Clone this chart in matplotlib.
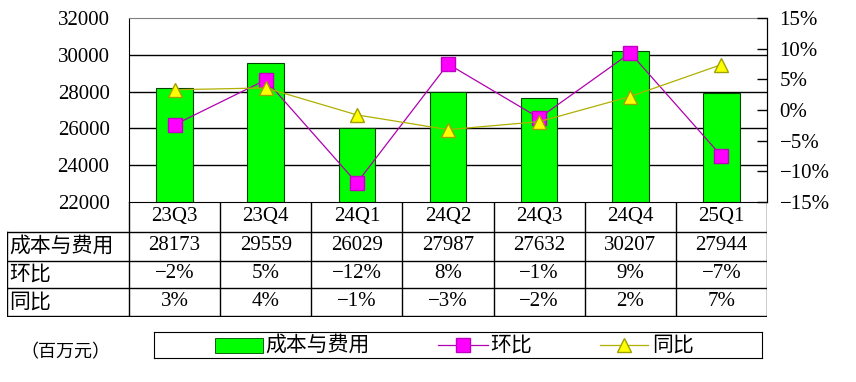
import numpy as np
import matplotlib
matplotlib.use("Agg")
import matplotlib.pyplot as plt
from matplotlib.lines import Line2D
from matplotlib.patches import Rectangle

plt.rcParams['font.family'] = ['Liberation Serif', 'Noto Sans CJK SC']
plt.rcParams['axes.unicode_minus'] = True

# DATA
quarters = ["23Q3", "23Q4", "24Q1", "24Q2", "24Q3", "24Q4", "25Q1"]
costs = [28173, 29559, 26029, 27987, 27632, 30207, 27944]
qoq = [-2.4, 4.9, -11.9, 7.5, -1.3, 9.3, -7.5]   # 环比 %
yoy = [3.3, 3.6, -0.8, -3.2, -1.9, 2.2, 7.4]     # 同比 %
qoq_text = ["−2%", "5%", "−12%", "8%", "−1%", "9%", "−7%"]
yoy_text = ["3%", "4%", "−1%", "−3%", "−2%", "2%", "7%"]
row_names = ["成本与费用", "环比", "同比"]
left_ticks = [22000, 24000, 26000, 28000, 30000, 32000]
right_ticks = [-15, -10, -5, 0, 5, 10, 15]

W, H = 856, 382
FS = 15
BAR_GREEN = "#00FF00"
MAGENTA = "#FF00FF"
QOQ_LINE = "#B000B0"
YELLOW = "#FFFF00"
YOY_LINE = "#B0B000"


def px_box(x0, y0, x1, y1):
    # pixel box (top-left origin) -> figure fraction rect
    return [x0 / W, 1 - y1 / H, (x1 - x0) / W, (y1 - y0) / H]


fig = plt.figure(figsize=(W / 100, H / 100), dpi=100)
fig.patch.set_facecolor("white")

# MAIN CHART
ax = fig.add_axes(px_box(129, 18, 767, 202))
x = np.arange(len(quarters))
ax.bar(x, costs, width=0.4, color=BAR_GREEN, edgecolor="#004400", linewidth=0.8, zorder=2)
ax.set_xlim(-0.5, len(quarters) - 0.5)
ax.set_ylim(22000, 32000)
ax.set_yticks(left_ticks)
ax.set_yticklabels([str(v) for v in left_ticks], fontsize=FS)
ax.tick_params(axis="y", length=0, pad=14)
ax.set_xticks([])
for v in left_ticks[1:-1]:
    ax.axhline(v, color="black", linewidth=1.0, zorder=1)
ax.spines["top"].set_color("#808080")
for s in ["left", "right", "bottom"]:
    ax.spines[s].set_color("black")

ax2 = ax.twinx()
ax2.set_ylim(-15, 15)
ax2.set_yticks(right_ticks)
ax2.set_yticklabels([f"{v}%".replace("-", "−") for v in right_ticks], fontsize=FS)
ax2.tick_params(axis="y", direction="in", length=7, pad=9, width=1)
for s in ["top", "left", "bottom"]:
    ax2.spines[s].set_visible(False)
ax2.spines["right"].set_color("black")
ax2.plot(x, qoq, color=QOQ_LINE, linewidth=0.9, marker="s", markersize=9.5,
         markerfacecolor=MAGENTA, markeredgecolor="#C000C0", zorder=3)
ax2.plot(x, yoy, color=YOY_LINE, linewidth=0.9, marker="^", markersize=10,
         markerfacecolor=YELLOW, markeredgecolor="#A0A000", zorder=4)

# DATA TABLE
cat_w = (767 - 129) / len(quarters)
x_left = -0.5 - (129 - 7) / cat_w
tab = fig.add_axes(px_box(7, 202, 767, 317))
tab.set_xlim(x_left, len(quarters) - 0.5)
tab.set_ylim(317, 202)
tab.axis("off")
lk = dict(color="black", linewidth=1.0)
for yy in [232, 261, 288, 316]:
    tab.add_line(Line2D([x_left, len(quarters) - 0.5], [yy, yy], **lk))
tab.add_line(Line2D([x_left, x_left], [232, 316], **lk))
for b in np.arange(len(quarters) + 1) - 0.5:
    tab.add_line(Line2D([b, b], [202, 316], **lk))

row_y = [246, 274, 302]
for i, q in enumerate(quarters):
    tab.text(i, 217, q, ha="center", va="center", fontsize=FS)
    tab.text(i, row_y[0], str(costs[i]), ha="center", va="center", fontsize=FS)
    tab.text(i, row_y[1], qoq_text[i], ha="center", va="center", fontsize=FS)
    tab.text(i, row_y[2], yoy_text[i], ha="center", va="center", fontsize=FS)
for name, yy in zip(row_names, row_y):
    tab.text(x_left + 0.02, yy, name, ha="left", va="center", fontsize=FS,
             family=["Noto Sans CJK SC"])

# LEGEND
leg = fig.add_axes(px_box(154, 332, 762, 358))
leg.set_xlim(154, 762)
leg.set_ylim(358, 332)
leg.set_xticks([])
leg.set_yticks([])
for s in leg.spines.values():
    s.set_color("black")
leg.add_patch(Rectangle((215, 338), 48, 15, facecolor=BAR_GREEN, edgecolor="#004400", linewidth=0.6))
leg.text(265, 345, row_names[0], ha="left", va="center", fontsize=FS, family=["Noto Sans CJK SC"])
leg.plot([438, 488], [345, 345], color=QOQ_LINE, linewidth=0.9)
leg.plot([463], [345], marker="s", markersize=9.5, markerfacecolor=MAGENTA, markeredgecolor="#C000C0")
leg.text(490, 345, row_names[1], ha="left", va="center", fontsize=FS, family=["Noto Sans CJK SC"])
leg.plot([600, 648], [345, 345], color=YOY_LINE, linewidth=0.9)
leg.plot([624], [345], marker="^", markersize=10, markerfacecolor=YELLOW, markeredgecolor="#A0A000")
leg.text(652, 345, row_names[2], ha="left", va="center", fontsize=FS, family=["Noto Sans CJK SC"])

fig.text(20 / W, 1 - 352 / H, "（百万元）", ha="left", va="center", fontsize=13,
         family=["Noto Sans CJK SC"])

fig.savefig("out.png", dpi=100)
